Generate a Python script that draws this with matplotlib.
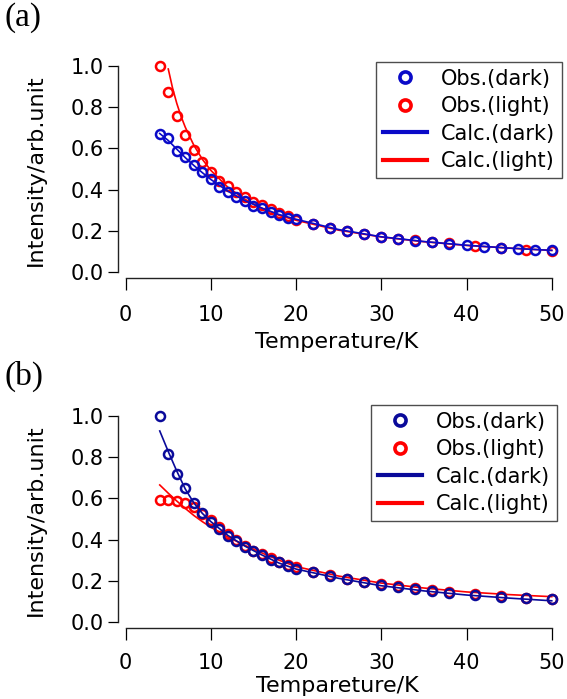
import matplotlib
matplotlib.use("Agg")
import matplotlib.pyplot as plt
from matplotlib.lines import Line2D

# ---- data ----
# panel (a)
a_T_dark = [4, 5, 6, 7, 8, 9, 10, 11, 12, 13, 14, 15, 16, 17, 18, 19, 20,
            22, 24, 26, 28, 30, 32, 34, 36, 38, 40, 42, 44, 46, 48, 50]
a_obs_dark = [0.670, 0.652, 0.587, 0.556, 0.517, 0.484, 0.449, 0.412, 0.386, 0.363,
              0.343, 0.321, 0.309, 0.290, 0.275, 0.263, 0.257,
              0.231, 0.212, 0.198, 0.183, 0.170, 0.160, 0.152, 0.144, 0.138,
              0.129, 0.123, 0.117, 0.112, 0.107, 0.105]
a_T_light = [4, 5, 6, 7, 8, 9, 10, 11, 12, 13, 14, 15, 16, 17, 18, 19, 20,
             22, 24, 26, 28, 30, 32, 34, 36, 38, 41, 44, 47, 50]
a_obs_light = [1.000, 0.872, 0.759, 0.666, 0.591, 0.532, 0.484, 0.444, 0.415, 0.388,
               0.363, 0.342, 0.323, 0.304, 0.288, 0.270, 0.252,
               0.233, 0.214, 0.199, 0.185, 0.172, 0.162, 0.153, 0.146, 0.140,
               0.126, 0.117, 0.109, 0.104]
a_Tc_dark = [4, 5, 6, 7, 8, 9, 10, 12, 14, 16, 18, 20, 25, 30, 35, 40, 45, 50]
a_calc_dark = [0.672, 0.638, 0.596, 0.555, 0.517, 0.482, 0.449, 0.392, 0.346, 0.310,
               0.279, 0.256, 0.206, 0.171, 0.148, 0.130, 0.116, 0.105]
a_Tc_light = [5, 5.5, 6, 6.5, 7, 8, 9, 10, 12, 14, 16, 18, 20, 25, 30, 35, 40, 45, 50]
a_calc_light = [0.985, 0.893, 0.818, 0.755, 0.702, 0.615, 0.547, 0.493, 0.411, 0.353,
                0.309, 0.275, 0.251, 0.203, 0.170, 0.147, 0.129, 0.116, 0.105]

# panel (b)
b_T = [4, 5, 6, 7, 8, 9, 10, 11, 12, 13, 14, 15, 16, 17, 18, 19, 20,
       22, 24, 26, 28, 30, 32, 34, 36, 38, 41, 44, 47, 50]
b_obs_dark = [1.000, 0.816, 0.718, 0.649, 0.579, 0.528, 0.487, 0.449, 0.419, 0.393,
              0.366, 0.343, 0.325, 0.303, 0.289, 0.270, 0.259,
              0.241, 0.225, 0.207, 0.192, 0.180, 0.168, 0.159, 0.150, 0.142,
              0.129, 0.120, 0.115, 0.110]
b_obs_light = [0.592, 0.592, 0.587, 0.576, 0.556, 0.522, 0.496, 0.463, 0.425, 0.396,
               0.371, 0.347, 0.328, 0.313, 0.293, 0.279, 0.266,
               0.245, 0.228, 0.211, 0.196, 0.184, 0.173, 0.163, 0.155, 0.147,
               0.135, 0.125, 0.117, 0.110]
b_Tc = [4, 5, 6, 7, 8, 9, 10, 12, 14, 16, 18, 20, 25, 30, 35, 40, 45, 50]
b_calc_dark = [0.927, 0.827, 0.732, 0.645, 0.578, 0.527, 0.487, 0.420, 0.368, 0.325,
               0.286, 0.257, 0.212, 0.176, 0.151, 0.131, 0.116, 0.103]
b_calc_light = [0.665, 0.625, 0.587, 0.551, 0.517, 0.487, 0.460, 0.412, 0.372, 0.335,
                0.300, 0.269, 0.223, 0.189, 0.165, 0.146, 0.133, 0.123]

legend_labels = ['Obs.(dark)', 'Obs.(light)', 'Calc.(dark)', 'Calc.(light)']
xticks = [0, 10, 20, 30, 40, 50]
yticks = [0.0, 0.2, 0.4, 0.6, 0.8, 1.0]

RED = '#ff0000'
W, H = 567, 699

fig = plt.figure(figsize=(W / 100, H / 100), dpi=100)


def make_panel(top_px, bottom_px, blue, leg_corner, xlabel, tag, tag_y, xpad, lpad):
    ax = fig.add_axes([118 / W, 1 - bottom_px / H, (556 - 118) / W, (bottom_px - top_px) / H])
    ax.set_xlim(-0.9, 50.5)
    ax.set_ylim(-0.029, 1.019)
    for s in ['top', 'right']:
        ax.spines[s].set_visible(False)
    ax.spines['bottom'].set_bounds(0, 50)
    ax.spines['left'].set_bounds(0, 1.0)
    for s in ['bottom', 'left']:
        ax.spines[s].set_linewidth(1.0)
        ax.spines[s].set_color('#222222')
    ax.set_xticks(xticks)
    ax.set_yticks(yticks)
    ax.set_yticklabels(['%.1f' % v for v in yticks])
    ax.tick_params(axis='x', direction='out', length=8.5, width=0.9, labelsize=15, pad=xpad)
    ax.tick_params(axis='y', direction='out', length=7, width=0.9, labelsize=15, pad=3)
    ax.set_xlabel(xlabel, fontsize=16, labelpad=lpad)
    ax.set_ylabel('Intensity/arb.unit', fontsize=16)
    ax.yaxis.set_label_coords(-0.165, 0.5)
    fig.text(4 / W, 1 - tag_y / H, tag, family='Liberation Serif', fontsize=24,
             ha='left', va='top')
    handles = [
        Line2D([], [], ls='none', marker='o', ms=8, mfc='none', mec=blue, mew=2.6),
        Line2D([], [], ls='none', marker='o', ms=8, mfc='none', mec=RED, mew=2.6),
        Line2D([], [], color=blue, lw=3),
        Line2D([], [], color=RED, lw=3),
    ]
    leg = ax.legend(handles, legend_labels, loc='upper right',
                    bbox_to_anchor=(leg_corner[0] / W, 1 - leg_corner[1] / H),
                    bbox_transform=fig.transFigure, borderaxespad=0,
                    fontsize=15, frameon=True, fancybox=False, edgecolor='#222222',
                    handlelength=2.1, handletextpad=0.7, labelspacing=0.36,
                    borderpad=0.32)
    leg.get_frame().set_linewidth(1.0)
    return ax


ms = 6.5
mew = 1.8

# (a)
blue_a = '#0a0ac8'
ax1 = make_panel(62, 278, blue_a, (562, 62), 'Temperature/K', '(a)', 2, 11, 5)
ax1.plot(a_T_light, a_obs_light, 'o', ms=ms, mfc='none', mec=RED, mew=mew, clip_on=False)
ax1.plot(a_Tc_light, a_calc_light, '-', color=RED, lw=1.2)
ax1.plot(a_T_dark, a_obs_dark, 'o', ms=ms, mfc='none', mec=blue_a, mew=mew, clip_on=False)
ax1.plot(a_Tc_dark, a_calc_dark, '-', color=blue_a, lw=1.2)

# (b)
blue_b = '#0a0a9a'
ax2 = make_panel(412, 628, blue_b, (557, 405), 'Tempareture/K', '(b)', 361, 9.5, 2.5)
ax2.plot(b_T, b_obs_light, 'o', ms=ms, mfc='none', mec=RED, mew=mew, clip_on=False)
ax2.plot(b_Tc, b_calc_light, '-', color=RED, lw=1.2)
ax2.plot(b_T, b_obs_dark, 'o', ms=ms, mfc='none', mec=blue_b, mew=mew, clip_on=False)
ax2.plot(b_Tc, b_calc_dark, '-', color=blue_b, lw=1.2)

fig.savefig('out.png', dpi=100)
